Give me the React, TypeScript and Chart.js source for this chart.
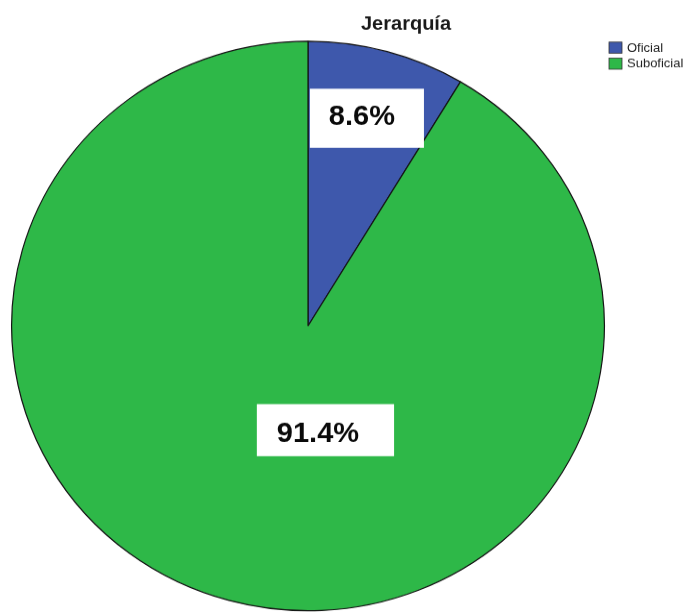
import React, { useEffect, useRef } from "react";
import { Chart, registerables } from "chart.js";

Chart.register(...registerables);

const categories = ["Oficial", "Suboficial"];
const values = [8.6, 91.4];
const colors = ["#3E58AC", "#2EB848"];
const titleText = "Jerarquía";

// label placement (fraction of radius, angle from top clockwise in degrees)
const labelRadiusFactor = [0.757, 0.378];
const labelAngleDeg = [13.9, 174.9];
// white box extents around label text: [padLeft, padRight, top, bottom] (relative to text center)
const labelBox = [
  [19, 29, -29.2, 32.3],
  [20, 35, -30.3, 23.9],
];

const W = 687;
const H = 637;
const SY = 612 / 637;
const FONT = "Arial, 'Liberation Sans', sans-serif";

const overlayPlugin = {
  id: "overlay",
  afterDatasetsDraw(chart: any) {
    const ctx = chart.ctx;
    const meta = chart.getDatasetMeta(0);
    ctx.save();
    meta.data.forEach((arc: any, i: number) => {
      const R = arc.outerRadius;
      const th = (labelAngleDeg[i] * Math.PI) / 180;
      const x = arc.x + R * labelRadiusFactor[i] * Math.sin(th);
      const y = arc.y - R * labelRadiusFactor[i] * Math.cos(th);
      const txt = values[i].toFixed(1) + "%";
      ctx.font = `bold 29px ${FONT}`;
      const tw = ctx.measureText(txt).width;
      const b = labelBox[i];
      const left = x - tw / 2 - b[0];
      const right = x + tw / 2 + b[1];
      ctx.fillStyle = "#ffffff";
      ctx.fillRect(left, y + b[2], right - left, b[3] - b[2]);
      ctx.fillStyle = "#0a0a0a";
      ctx.textAlign = "center";
      ctx.textBaseline = "middle";
      ctx.fillText(txt, x, y + 1);
    });

    // title
    ctx.font = `bold 20px ${FONT}`;
    ctx.fillStyle = "#1a1a1a";
    ctx.textAlign = "center";
    ctx.textBaseline = "alphabetic";
    ctx.fillText(titleText, 406, 31.3);

    // legend
    const boxX = 609;
    const boxW = 13;
    const boxH = 11.5;
    const rowY = [43.8, 60.5];
    categories.forEach((c, i) => {
      ctx.fillStyle = colors[i];
      ctx.fillRect(boxX, rowY[i], boxW, boxH);
      ctx.strokeStyle = "#333333";
      ctx.lineWidth = 0.8;
      ctx.strokeRect(boxX, rowY[i], boxW, boxH);
      ctx.fillStyle = "#222222";
      ctx.font = `13px ${FONT}`;
      ctx.textAlign = "left";
      ctx.textBaseline = "middle";
      ctx.fillText(c, 627, rowY[i] + boxH / 2 + 0.5);
    });
    ctx.restore();
  },
};

export default function App() {
  const ref = useRef<HTMLCanvasElement | null>(null);
  useEffect(() => {
    if (!ref.current) return;
    const chart = new Chart(ref.current, {
      type: "pie",
      data: {
        labels: categories,
        datasets: [
          {
            data: values,
            backgroundColor: colors,
            borderColor: "#151515",
            borderWidth: 1.2,
          },
        ],
      },
      options: {
        responsive: false,
        animation: false,
        devicePixelRatio: 1,
        layout: { padding: { left: 10.8, right: 81.8, top: 42.3, bottom: 0.7 } },
        plugins: {
          legend: { display: false },
          title: { display: false },
          tooltip: { enabled: false },
        },
      },
      plugins: [overlayPlugin],
    });
    return () => chart.destroy();
  }, []);

  return (
    <div
      style={{
        position: "fixed",
        left: 0,
        top: 0,
        width: W,
        height: 612,
        overflow: "hidden",
        background: "#ffffff",
      }}
    >
      <div style={{ transform: `scale(1, ${SY})`, transformOrigin: "0 0", width: W, height: H }}>
        <canvas ref={ref} width={W} height={H} style={{ width: W, height: H, display: "block" }} />
      </div>
    </div>
  );
}
